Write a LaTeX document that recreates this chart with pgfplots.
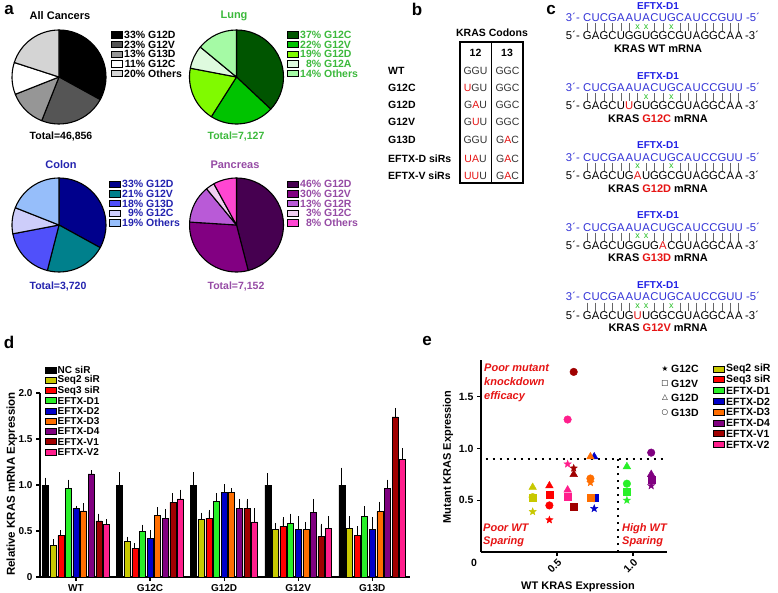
\documentclass[border=0pt]{standalone}
\usepackage{pgfplots}
\pgfplotsset{compat=1.18}
\usepackage{fontspec}
\setmainfont{Liberation Sans}
\newfontfamily\dejavu{DejaVu Sans}
\usetikzlibrary{plotmarks}

\definecolor{acB}{RGB}{85,85,85}
\definecolor{acC}{RGB}{150,150,150}
\definecolor{acE}{RGB}{212,212,212}
\definecolor{luA}{RGB}{0,85,0}
\definecolor{luB}{RGB}{0,195,0}
\definecolor{luC}{RGB}{128,250,0}
\definecolor{luD}{RGB}{222,250,222}
\definecolor{luE}{RGB}{165,250,165}
\definecolor{luT}{RGB}{60,185,60}
\definecolor{coA}{RGB}{0,0,140}
\definecolor{coB}{RGB}{0,128,140}
\definecolor{coC}{RGB}{80,80,250}
\definecolor{coD}{RGB}{205,205,250}
\definecolor{coE}{RGB}{150,190,250}
\definecolor{coT}{RGB}{35,35,175}
\definecolor{paA}{RGB}{70,0,80}
\definecolor{paB}{RGB}{130,0,130}
\definecolor{paC}{RGB}{185,90,215}
\definecolor{paD}{RGB}{240,205,240}
\definecolor{paE}{RGB}{255,70,210}
\definecolor{paT}{RGB}{150,75,165}
\definecolor{cNC}{RGB}{0,0,0}
\definecolor{cS2}{RGB}{200,200,0}
\definecolor{cS3}{RGB}{255,0,0}
\definecolor{cD1}{RGB}{40,240,40}
\definecolor{cD2}{RGB}{0,0,200}
\definecolor{cD3}{RGB}{255,110,0}
\definecolor{cD4}{RGB}{128,0,128}
\definecolor{cV1}{RGB}{160,0,0}
\definecolor{cV2}{RGB}{255,30,140}
\definecolor{eblue}{RGB}{30,30,230}
\definecolor{sblue}{RGB}{50,50,215}
\definecolor{xgreen}{RGB}{40,190,40}
\definecolor{kred}{RGB}{230,20,20}

\newcommand{\R}[1]{\textcolor{kred}{#1}}
\newcommand{\bfs}[1]{\fontsize{#1}{#1}\selectfont\bfseries}
\newcommand{\rgs}[1]{\fontsize{#1}{#1}\selectfont}

\pgfdeclareplotmark{fstar}{%
 \pgfpathmoveto{\pgfpointpolar{90}{\pgfplotmarksize}}%
 \pgfpathlineto{\pgfpointpolar{126}{0.42\pgfplotmarksize}}%
 \pgfpathlineto{\pgfpointpolar{162}{\pgfplotmarksize}}%
 \pgfpathlineto{\pgfpointpolar{198}{0.42\pgfplotmarksize}}%
 \pgfpathlineto{\pgfpointpolar{234}{\pgfplotmarksize}}%
 \pgfpathlineto{\pgfpointpolar{270}{0.42\pgfplotmarksize}}%
 \pgfpathlineto{\pgfpointpolar{306}{\pgfplotmarksize}}%
 \pgfpathlineto{\pgfpointpolar{342}{0.42\pgfplotmarksize}}%
 \pgfpathlineto{\pgfpointpolar{18}{\pgfplotmarksize}}%
 \pgfpathlineto{\pgfpointpolar{54}{0.42\pgfplotmarksize}}%
 \pgfpathclose
 \pgfusepathqfillstroke}

% pie drawn inside a hidden axis from a list pct/color
\newcommand{\piedraw}[1]{%
  \gdef\cum{0}%
  \foreach \p/\c in {#1}{%
    \pgfmathsetmacro\sa{90-3.6*\cum}%
    \pgfmathsetmacro\ea{90-3.6*(\cum+\p)}%
    \edef\tmp{\noexpand\filldraw[fill=\c, draw=black, line width=1.1pt, line join=round] (axis cs:0,0) -- ++(\sa:47pt) arc[start angle=\sa, end angle=\ea, radius=47pt] -- cycle;}%
    \tmp
    \pgfmathsetmacro\nc{\cum+\p}%
    \xdef\cum{\nc}%
  }}
\newcommand{\pieaxis}[3]{% x, y, list
  \begin{axis}[hide axis, scale only axis, width=96pt, height=96pt,
    xmin=-1, xmax=1, ymin=-1, ymax=1, at={(#1pt,-#2pt)}, anchor=center, clip=false]
    \piedraw{#3}
  \end{axis}}

% legend row for pies
\newcommand{\pleg}[5]{%
  \filldraw[fill=#3, draw=black, line width=1pt] (#1,#2-3.2) rectangle ++(11,6.4);
  \node[anchor=west, inner sep=0, text=#4, font=\bfs{10.5}] at (#1+13,#2) {#5};}
\newcommand{\pc}[2]{\makebox[21pt][r]{#1\%}~#2}

% sequence helpers
\newcommand{\strand}[3]{%
  \foreach \ch [count=\i] in {#3} {\node[inner sep=0, text=#2, font=\rgs{11.3}, anchor=base] at ({587.2+(\i-1)*8.42},#1) {\ch};}}
\newcommand{\block}[5]{%
  \node[font=\bfs{10}, text=eblue] at (658,#1) {EFTX-D1};
  \node[anchor=base east, inner sep=0, font=\rgs{11.3}, text=sblue] at (580,#1+16) {3´-};
  \strand{#1+16}{sblue}{C,U,C,G,A,A,U,A,C,U,G,C,A,U,C,C,G,U,U}
  \node[anchor=base west, inner sep=0, font=\rgs{11.3}, text=sblue] at (746,#1+16) {-5´};
  \foreach \i in {#3} {\draw[black!60, line width=0.6pt] ({587.2+(\i-1)*8.42},#1+17.5) -- ++(0,8);}
  \foreach \i in {#4} {\node[inner sep=0, text=xgreen, font=\rgs{9}] at ({587.2+(\i-1)*8.42},#1+21) {x};}
  \node[anchor=base east, inner sep=0, font=\rgs{11.3}] at (580,#1+34) {5´-};
  \strand{#1+34}{black}{#2}
  \node[anchor=base west, inner sep=0, font=\rgs{11.3}] at (745,#1+34) {-3´};
  \node[font=\bfs{11}] at (658,#1+43) {#5};}

\newcommand{\sipt}[6]{%
  \addplot[only marks, mark=fstar, mark size=3.8pt, color=#1] coordinates {(#2,#3)};
  \addplot[only marks, mark=square*, mark size=3.5pt, color=#1] coordinates {(#2,#4)};
  \addplot[only marks, mark=triangle*, mark size=4.4pt, color=#1] coordinates {(#2,#5)};
  \addplot[only marks, mark=*, mark size=3.8pt, color=#1] coordinates {(#2,#6)};}

\begin{document}
\begin{tikzpicture}
\useasboundingbox (0,0) rectangle (778pt,-593pt);
\fill[white] (0,0) rectangle (778pt,-593pt);

% ---------- panel a: pies ----------
\pieaxis{59}{77}{33/black,23/acB,13/acC,11/white,20/acE}
\pieaxis{236.5}{77}{37/luA,22/luB,19/luC,8/luD,14/luE}
\pieaxis{59}{225}{33/coA,21/coB,18/coC,9/coD,19/coE}
\pieaxis{236.5}{225}{46/paA,30/paB,13/paC,3/paD,8/paE}

% ---------- panel d: bars ----------
\begin{axis}[at={(40pt,-577pt)}, anchor=south west, scale only axis,
  width=370pt, height=184pt, xmin=-0.486, xmax=4.51, ymin=0, ymax=2,
  axis x line*=bottom, axis y line*=left, axis line style={line width=1.4pt},
  ytick={0,0.5,1,1.5,2}, yticklabels={0,0.5,1.0,1.5,2.0},
  xtick={0,1,2,3,4}, xticklabels={WT,G12C,G12D,G12V,G13D},
  tick align=outside, major tick length=4pt, tick style={line width=1.2pt, black},
  ticklabel style={font=\bfs{10}},
  ybar=1.6pt, bar width=6pt, enlargelimits=false]
\pgfplotsset{every axis plot/.append style={draw=black, line width=0.5pt,
  error bars/y dir=plus, error bars/y explicit,
  error bars/error bar style={line width=0.8pt, black},
  error bars/error mark options={mark size=1.8pt, line width=0.8pt, black}}}
\addplot[fill=cNC] coordinates {(0,1.00) +- (0,0.06) (1,1.00) +- (0,0.12) (2,1.00) +- (0,0.12) (3,1.00) +- (0,0.11) (4,1.00) +- (0,0.17)};
\addplot[fill=cS2] coordinates {(0,0.34) +- (0,0.05) (1,0.39) +- (0,0.03) (2,0.625) +- (0,0.055) (3,0.52) +- (0,0.05) (4,0.53) +- (0,0.11)};
\addplot[fill=cS3] coordinates {(0,0.45) +- (0,0.04) (1,0.31) +- (0,0.04) (2,0.64) +- (0,0.07) (3,0.55) +- (0,0.08) (4,0.45) +- (0,0.08)};
\addplot[fill=cD1] coordinates {(0,0.96) +- (0,0.08) (1,0.50) +- (0,0.05) (2,0.825) +- (0,0.065) (3,0.58) +- (0,0.09) (4,0.66) +- (0,0.09)};
\addplot[fill=cD2] coordinates {(0,0.745) +- (0,0.01) (1,0.42) +- (0,0.07) (2,0.92) +- (0,0.07) (3,0.52) +- (0,0.12) (4,0.52) +- (0,0.11)};
\addplot[fill=cD3] coordinates {(0,0.72) +- (0,0.06) (1,0.67) +- (0,0.07) (2,0.92) +- (0,0.025) (3,0.52) +- (0,0.06) (4,0.71) +- (0,0.09)};
\addplot[fill=cD4] coordinates {(0,1.12) +- (0,0.02) (1,0.64) +- (0,0.08) (2,0.75) +- (0,0.08) (3,0.70) +- (0,0.13) (4,0.96) +- (0,0.08)};
\addplot[fill=cV1] coordinates {(0,0.61) +- (0,0.06) (1,0.81) +- (0,0.08) (2,0.75) +- (0,0.08) (3,0.44) +- (0,0.12) (4,1.74) +- (0,0.08)};
\addplot[fill=cV2] coordinates {(0,0.57) +- (0,0.04) (1,0.85) +- (0,0.08) (2,0.60) +- (0,0.13) (3,0.53) +- (0,0.11) (4,1.28) +- (0,0.10)};
\end{axis}

% ---------- panel e: scatter ----------
\begin{axis}[at={(481pt,-552pt)}, anchor=south west, scale only axis,
  width=186pt, height=192pt, xmin=0, xmax=1.224, ymin=0, ymax=1.855,
  axis x line*=bottom, axis y line*=left, axis line style={line width=1.6pt},
  xtick={0.5,1}, xticklabels={0.5,1.0}, ytick={0.5,1,1.5}, yticklabels={0.5,1.0,1.5},
  tick align=outside, major tick length=4pt, tick style={line width=1.3pt, black},
  ticklabel style={font=\bfs{10.5}}, xticklabel style={rotate=45, anchor=north east, inner sep=1pt},
  clip=false, enlargelimits=false]
\addplot[black, line width=2.2pt, line cap=butt, dash pattern=on 2.2pt off 4.8pt] coordinates {(0.03,0.9) (1.2,0.9)};
\addplot[black, line width=2.2pt, line cap=butt, dash pattern=on 2.2pt off 4.8pt] coordinates {(0.9,0) (0.9,0.9)};
% color, WT x, G12C, G12V, G12D, G13D
\sipt{cS2}{0.34}{0.39}{0.52}{0.625}{0.53}
\sipt{cS3}{0.45}{0.31}{0.55}{0.64}{0.45}
\sipt{cD1}{0.96}{0.50}{0.58}{0.825}{0.66}
\sipt{cD2}{0.745}{0.42}{0.52}{0.92}{0.52}
\sipt{cD3}{0.72}{0.67}{0.52}{0.92}{0.71}
\sipt{cD4}{1.12}{0.64}{0.70}{0.75}{0.96}
\sipt{cV1}{0.61}{0.81}{0.44}{0.75}{1.74}
\sipt{cV2}{0.57}{0.85}{0.53}{0.60}{1.28}
\end{axis}

\begin{scope}[x=1pt,y=-1pt]
% panel letters
\node[font=\bfs{17}] at (9,10) {a};
\node[font=\bfs{17}] at (417,9) {b};
\node[font=\bfs{17}] at (551,10) {c};
\node[font=\bfs{17}] at (9,342) {d};
\node[font=\bfs{17}] at (427,341) {e};

% pie titles / totals
\node[font=\bfs{11}] at (60,16) {All Cancers};
\node[font=\bfs{11}, text=luT] at (234,16) {Lung};
\node[font=\bfs{11}, text=coT] at (61,165) {Colon};
\node[font=\bfs{11}, text=paT] at (235,165) {Pancreas};
\node[font=\bfs{10.5}] at (61,137) {Total=46,856};
\node[font=\bfs{10.5}, text=luT] at (236,137) {Total=7,127};
\node[font=\bfs{10.5}, text=coT] at (58,287) {Total=3,720};
\node[font=\bfs{10.5}, text=paT] at (236,287) {Total=7,152};

% pie legends
\pleg{111}{35}{black}{black}{\pc{33}{G12D}}
\pleg{111}{44.7}{acB}{black}{\pc{23}{G12V}}
\pleg{111}{54.3}{acC}{black}{\pc{13}{G13D}}
\pleg{111}{64}{white}{black}{\pc{11}{G12C}}
\pleg{111}{73.7}{acE}{black}{\pc{20}{Others}}
\pleg{287}{35}{luA}{luT}{\pc{37}{G12C}}
\pleg{287}{44.7}{luB}{luT}{\pc{22}{G12V}}
\pleg{287}{54.3}{luC}{luT}{\pc{19}{G12D}}
\pleg{287}{64}{luD}{luT}{\pc{8}{G12A}}
\pleg{287}{73.7}{luE}{luT}{\pc{14}{Others}}
\pleg{109}{184.3}{coA}{coT}{\pc{33}{G12D}}
\pleg{109}{194}{coB}{coT}{\pc{21}{G12V}}
\pleg{109}{203.6}{coC}{coT}{\pc{18}{G13D}}
\pleg{109}{213.3}{coD}{coT}{\pc{9}{G12C}}
\pleg{109}{223}{coE}{coT}{\pc{19}{Others}}
\pleg{287}{184.3}{paA}{paT}{\pc{46}{G12D}}
\pleg{287}{194}{paB}{paT}{\pc{30}{G12V}}
\pleg{287}{203.6}{paC}{paT}{\pc{13}{G12R}}
\pleg{287}{213.3}{paD}{paT}{\pc{3}{G12C}}
\pleg{287}{223}{paE}{paT}{\pc{8}{Others}}

% ---------- panel b ----------
\node[font=\bfs{10.5}] at (492,33) {KRAS Codons};
\draw[line width=1.5pt] (460,42) rectangle (523,183);
\draw[line width=1.5pt] (491.5,42) -- (491.5,183);
\node[font=\bfs{10.5}] at (475.5,53) {12};
\node[font=\bfs{10.5}] at (507,53) {13};
\foreach \yy/\lab/\ca/\cb in {71/WT/GGU/GGC, 88/G12C/\R{U}GU/GGC, 105/G12D/G\R{A}U/GGC,
  122/G12V/G\R{U}U/GGC, 140/G13D/GGU/G\R{A}C, 159/EFTX-D siRs/\R{UA}U/G\R{A}C, 176/EFTX-V siRs/\R{UU}U/G\R{A}C}{
  \node[anchor=west, inner sep=0, font=\bfs{10.5}] at (388,\yy) {\lab};
  \node[font=\rgs{10.5}, text=black!80] at (475.5,\yy) {\ca};
  \node[font=\rgs{10.5}, text=black!80] at (507.5,\yy) {\cb};
}

% ---------- panel c ----------
\block{6}{G,A,G,C,U,G,G,U,G,G,C,G,U,A,G,G,C,A,A}{1,2,3,4,5,6,9,10,12,13,14,15,16,17,18,19}{7,8,11}{KRAS WT mRNA}
\block{75.7}{G,A,G,C,U,\R{U},G,U,G,G,C,G,U,A,G,G,C,A,A}{1,2,3,4,5,6,7,9,10,12,13,14,15,16,17,18,19}{8,11}{KRAS \R{G12C} mRNA}
\block{145.5}{G,A,G,C,U,G,\R{A},U,G,G,C,G,U,A,G,G,C,A,A}{1,2,3,4,5,6,8,9,10,12,13,14,15,16,17,18,19}{7,11}{KRAS \R{G12D} mRNA}
\block{215.2}{G,A,G,C,U,G,G,U,G,\R{A},C,G,U,A,G,G,C,A,A}{1,2,3,4,5,6,9,10,11,12,13,14,15,16,17,18,19}{7,8}{KRAS \R{G13D} mRNA}
\block{285}{G,A,G,C,U,G,\R{U},U,G,G,C,G,U,A,G,G,C,A,A}{1,2,3,4,5,6,9,10,12,13,14,15,16,17,18,19}{7,8,11}{KRAS \R{G12V} mRNA}

% ---------- panel d extras ----------
\node[rotate=90, font=\bfs{11.5}] at (12,484) {Relative KRAS mRNA Expression};
\foreach \k/\c/\t in {0/cNC/NC siR, 1/cS2/Seq2 siR, 2/cS3/Seq3 siR, 3/cD1/EFTX-D1, 4/cD2/EFTX-D2,
  5/cD3/EFTX-D3, 6/cD4/EFTX-D4, 7/cV1/EFTX-V1, 8/cV2/EFTX-V2}{
  \filldraw[fill=\c, draw=black, line width=0.8pt] (45,370+\k*10.25-3) rectangle ++(11,6);
  \node[anchor=west, inner sep=0, font=\bfs{10}] at (57.5,370+\k*10.25) {\t};
}

% ---------- panel e extras ----------
\node[rotate=90, font=\bfs{11}] at (448,457) {Mutant KRAS Expression};
\node[font=\bfs{11}] at (578,587) {WT KRAS Expression};
\node[font=\bfs{10.5}] at (474,563) {0};
\node[anchor=west, align=left, inner sep=0, font=\fontsize{11}{14}\selectfont\bfseries\itshape, text=kred] at (484,383) {Poor mutant\\knockdown\\efficacy};
\node[anchor=west, align=left, inner sep=0, font=\fontsize{11}{13}\selectfont\bfseries\itshape, text=kred] at (483,535) {Poor WT\\Sparing};
\node[anchor=west, align=left, inner sep=0, font=\fontsize{11}{13}\selectfont\bfseries\itshape, text=kred] at (622,535) {High WT\\Sparing};
\foreach \k/\g/\t in {0/★/G12C, 1/□/G12V, 2/△/G12D, 3/○/G13D}{
  \node[font=\dejavu\fontsize{7.5}{8}\selectfont] at (665,369+\k*14.5) {\g};
  \node[anchor=west, inner sep=0, font=\bfs{10.5}] at (671,369+\k*14.5) {\t};
}
\foreach \k/\c/\t in {0/cS2/Seq2 siR, 1/cS3/Seq3 siR, 2/cD1/EFTX-D1, 3/cD2/EFTX-D2,
  4/cD3/EFTX-D3, 5/cD4/EFTX-D4, 6/cV1/EFTX-V1, 7/cV2/EFTX-V2}{
  \filldraw[fill=\c, draw=black, line width=0.8pt] (713,369+\k*10.8-3) rectangle ++(11,6);
  \node[anchor=west, inner sep=0, font=\bfs{10.5}] at (726,369+\k*10.8) {\t};
}
\end{scope}
\end{tikzpicture}
\end{document}
